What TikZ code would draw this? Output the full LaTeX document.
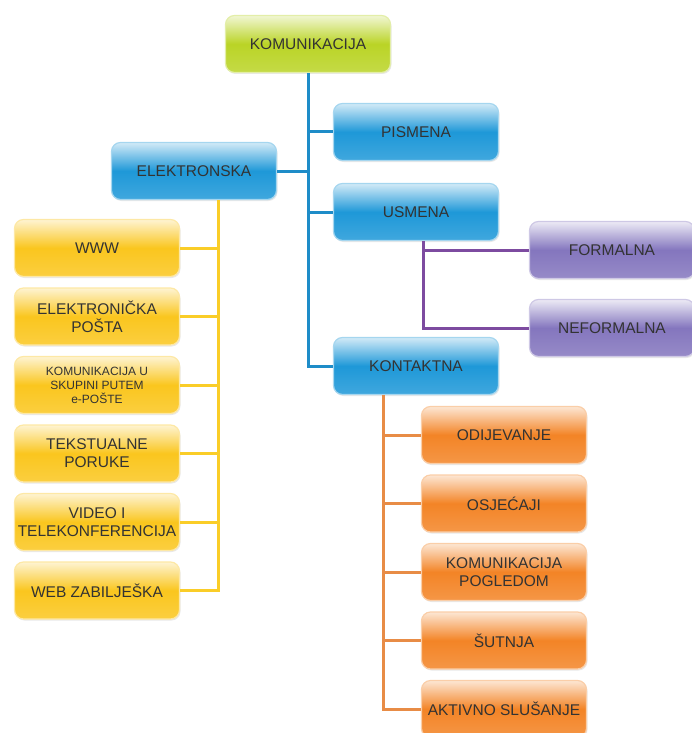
\documentclass[tikz,border=0pt]{standalone}
\usepackage{fontspec}
\setmainfont{Liberation Sans}
\usepackage{tikz}
\usetikzlibrary{positioning,shadows}

\definecolor{kgreen}{RGB}{186,212,38}
\definecolor{kblue}{RGB}{30,152,216}
\definecolor{kyellow}{RGB}{250,198,30}
\definecolor{kpurple}{RGB}{132,118,190}
\definecolor{korange}{RGB}{243,132,38}
\definecolor{lblue}{RGB}{30,140,200}
\definecolor{lyellow}{RGB}{250,205,40}
\definecolor{lpurple}{RGB}{125,75,160}
\definecolor{lorange}{RGB}{232,140,70}

\begin{document}
\begin{tikzpicture}[x=1pt, y=1pt, node distance=68.5pt, on grid,
    box/.style={rectangle, rounded corners=9pt, minimum width=165pt, minimum height=57pt,
      inner xsep=0pt, align=center, line width=1.2pt, text=black!80,
      font=\fontsize{15.5}{18}\selectfont,
      drop shadow={opacity=0.18, shadow xshift=1pt, shadow yshift=-1.5pt}},
    gbox/.style={box, draw=kgreen!40!white, top color=kgreen!20!white, bottom color=kgreen!85!white, middle color=kgreen},
    bbox/.style={box, draw=kblue!40!white, top color=kblue!20!white, bottom color=kblue!85!white, middle color=kblue},
    ybox/.style={box, draw=kyellow!40!white, top color=kyellow!20!white, bottom color=kyellow!85!white, middle color=kyellow},
    pbox/.style={box, draw=kpurple!40!white, top color=kpurple!15!white, bottom color=kpurple!85!white, middle color=kpurple},
    obox/.style={box, draw=korange!40!white, top color=korange!20!white, bottom color=korange!85!white, middle color=korange},
    bline/.style={draw=lblue, line width=3pt},
    yline/.style={draw=lyellow, line width=3pt},
    pline/.style={draw=lpurple, line width=3pt},
    oline/.style={draw=lorange, line width=3pt}]
    \useasboundingbox (0,0) rectangle (691,-733);
    % Nodes
    \node [gbox] (komunikacija) at (308,-44) {KOMUNIKACIJA};
    \node [bbox, below right=88pt and 108pt of komunikacija] (pismena) {PISMENA};
    \node [bbox, below left=127pt and 114pt of komunikacija] (elektronska) {ELEKTRONSKA};
    \node [bbox, below=80pt of pismena] (usmena) {USMENA};
    \node [bbox, below=154pt of usmena] (kontaktna) {KONTAKTNA};
    \node [pbox, below right=38pt and 196pt of usmena] (formalna) {FORMALNA};
    \node [pbox, below=78pt of formalna] (neformalna) {NEFORMALNA};
    % elektronska
    \node [ybox, below left=77pt and 97pt of elektronska] (www) {WWW};
    \node [ybox, below=of www] (eposta) {ELEKTRONIČKA\\POŠTA};
    \node [ybox, below=of eposta, font=\fontsize{12}{14}\selectfont] (skupina) {KOMUNIKACIJA U\\SKUPINI PUTEM\\e-POŠTE};
    \node [ybox, below=of skupina] (poruke) {TEKSTUALNE\\PORUKE};
    \node [ybox, below=of poruke] (video) {VIDEO I\\TELEKONFERENCIJA};
    \node [ybox, below=of video] (biljeska) {WEB ZABILJEŠKA};
    % kontaktna
    \node [obox, below right=69pt and 88pt of kontaktna] (odijevanje) {ODIJEVANJE};
    \node [obox, below=of odijevanje] (osjecaji) {OSJEĆAJI};
    \node [obox, below=of osjecaji] (pogled) {KOMUNIKACIJA\\POGLEDOM};
    \node [obox, below=of pogled] (sutnja) {ŠUTNJA};
    \node [obox, below=of sutnja] (slusanje) {AKTIVNO SLUŠANJE};
    % Connectors
    \foreach \n in {pismena,usmena,kontaktna}
      \draw [bline] (komunikacija.south) |- (\n.west);
    \draw [bline] (komunikacija.south) |- (elektronska.east);
    \coordinate (ytrunk) at ([xshift=24pt]elektronska.south);
    \foreach \n in {www,eposta,skupina,poruke,video,biljeska}
      \draw [yline] (ytrunk) |- (\n.east);
    \coordinate (ptrunk) at ([xshift=7pt]usmena.south);
    \foreach \n in {formalna,neformalna}
      \draw [pline] (ptrunk) |- (\n.west);
    \coordinate (otrunk) at ([xshift=-33pt]kontaktna.south);
    \foreach \n in {odijevanje,osjecaji,pogled,sutnja,slusanje}
      \draw [oline] (otrunk) |- (\n.west);
\end{tikzpicture}
\end{document}
